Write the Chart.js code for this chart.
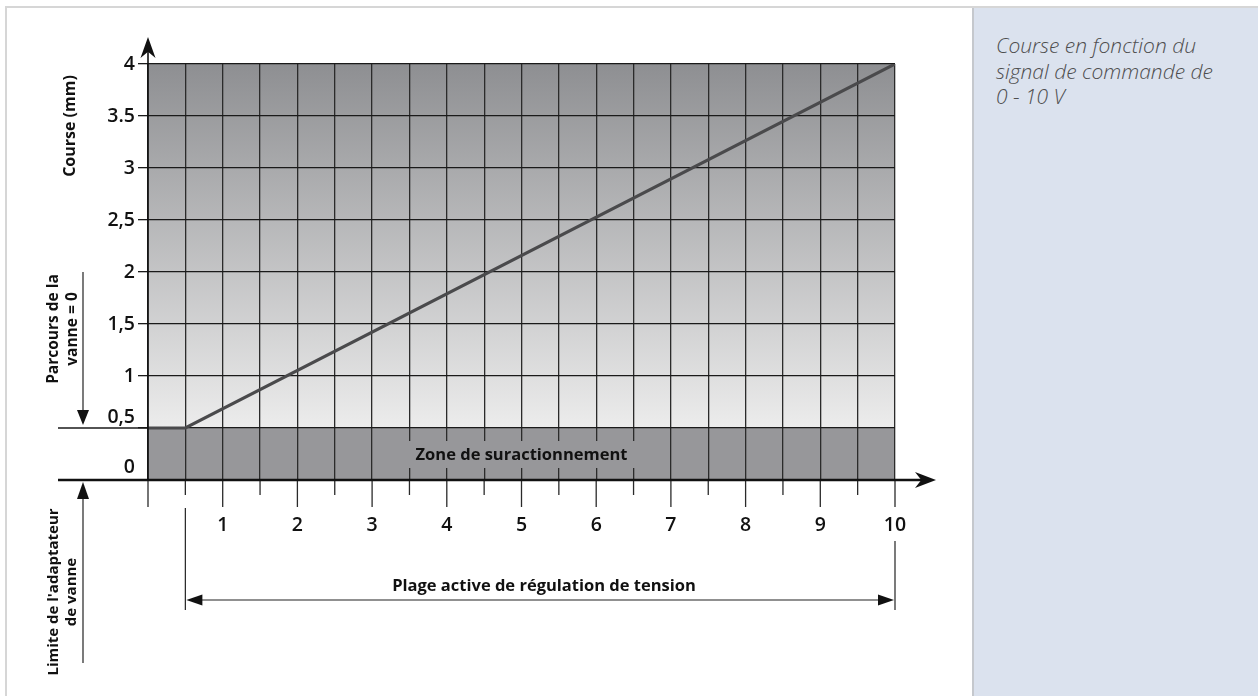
<!DOCTYPE html>
<html>
<head>
<meta charset="utf-8">
<script src="https://cdn.jsdelivr.net/npm/chart.js@4.4.1/dist/chart.umd.min.js"></script>
<style>
  html, body { margin: 0; padding: 0; background: #fff; }
  body { width: 1258px; height: 696px; position: relative; overflow: hidden; font-family: "Open Sans", sans-serif; }
  .frame { position: absolute; left: 5px; top: 6px; width: 1260px; height: 700px; border-top: 2px solid #d6d6d6; border-left: 2px solid #d6d6d6; }
  #wrap { position: absolute; left: 0; top: 0; width: 972px; height: 696px; }
  .side { position: absolute; left: 972px; top: 8px; width: 286px; height: 688px; background: #dbe2ee; border-left: 2px solid #c5c8cd; }
  .side p { margin: 0; padding: 25px 0 0 22px; font-style: italic; font-weight: 300; font-size: 21px; line-height: 25.5px; color: #4e4e4e; }
</style>
</head>
<body>
<div class="frame"></div>
<div id="wrap"><canvas id="chart" width="972" height="696"></canvas></div>
<div class="side"><p>Course en fonction du<br>signal de commande de<br>0 - 10 V</p></div>

<script>
// signal (V) -> course (mm)
const signalValues = [0, 0.5, 10];
const courseValues = [0.5, 0.5, 4];

const yTickValues = [0, 0.5, 1, 1.5, 2, 2.5, 3, 3.5, 4];
const yTickLabels = ['0', '0,5', '1', '1,5', '2', '2,5', '3', '3.5', '4'];
const xTickValues = [1, 2, 3, 4, 5, 6, 7, 8, 9, 10];
const xTickLabels = ['1', '2', '3', '4', '5', '6', '7', '8', '9', '10'];

const yTitle = 'Course (mm)';
const zoneLabel = 'Zone de suractionnement';
const rangeLabel = 'Plage active de régulation de tension';
const travelLabel = ['Parcours de la', 'vanne = 0'];
const limitLabel = ["Limite de l'adaptateur", 'de vanne'];

const zoneTop = 0.5;       // overtravel zone limit (mm)
const rangeStart = 0.5;    // active range start (V)
const rangeEnd = 10;

const BOLD = '"Open Sans", sans-serif';

function arrowHead(ctx, tx, ty, dx, dy, len, half, notch) {
  // dx,dy unit direction the arrow points to
  const bx = tx - dx * len, by = ty - dy * len;
  const px = -dy, py = dx;
  ctx.beginPath();
  ctx.moveTo(tx, ty);
  ctx.lineTo(bx + px * half, by + py * half);
  ctx.lineTo(tx - dx * len * (1 - notch), ty - dy * len * (1 - notch));
  ctx.lineTo(bx - px * half, by - py * half);
  ctx.closePath();
  ctx.fill();
}

function line(ctx, x1, y1, x2, y2, w, c) {
  ctx.beginPath();
  ctx.lineWidth = w;
  ctx.strokeStyle = c;
  ctx.moveTo(x1, y1);
  ctx.lineTo(x2, y2);
  ctx.stroke();
}

function vText(ctx, lines, cx, cy, font, gap) {
  ctx.save();
  ctx.translate(cx, cy);
  ctx.rotate(-Math.PI / 2);
  ctx.font = font;
  ctx.fillStyle = '#111';
  ctx.textAlign = 'center';
  ctx.textBaseline = 'middle';
  const off = (lines.length - 1) * gap / 2;
  lines.forEach((t, i) => ctx.fillText(t, 0, -off + i * gap));
  ctx.restore();
}

const diagramPlugin = {
  id: 'diagram',
  beforeDraw(chart) {
    const { ctx, chartArea: a, scales: { x, y } } = chart;
    const yz = y.getPixelForValue(zoneTop);
    const g = ctx.createLinearGradient(0, a.top, 0, yz);
    g.addColorStop(0, '#8e8f92');
    g.addColorStop(1, '#ececec');
    ctx.save();
    ctx.fillStyle = g;
    ctx.fillRect(a.left, a.top, a.right - a.left, yz - a.top);
    ctx.fillStyle = '#97979a';
    ctx.fillRect(a.left, yz, a.right - a.left, a.bottom - yz);
    ctx.restore();
  },
  afterDraw(chart) {
    const { ctx, chartArea: a, scales: { x, y } } = chart;
    ctx.save();
    const y0 = y.getPixelForValue(0);
    const yz = y.getPixelForValue(zoneTop);
    const x0 = x.getPixelForValue(0);
    const xr0 = x.getPixelForValue(rangeStart);
    const xr1 = x.getPixelForValue(rangeEnd);
    const leftX = 58;

    // zone label with its own background
    ctx.font = 'bold 16.5px ' + BOLD;
    const zx = x.getPixelForValue(5), zy = y.getPixelForValue(0.25);
    const zw = ctx.measureText(zoneLabel).width;
    ctx.fillStyle = '#97979a';
    ctx.fillRect(zx - zw / 2 - 8, zy - 13, zw + 16, 27);
    ctx.fillStyle = '#111';
    ctx.textAlign = 'center';
    ctx.textBaseline = 'middle';
    ctx.fillText(zoneLabel, zx, zy + 1);

    // lower y labels sit above their lines
    ctx.font = '600 19.5px ' + BOLD;
    ctx.textAlign = 'right';
    ctx.fillText(yTickLabels[1], 135, yz - 11);
    ctx.fillText(yTickLabels[0], 135, y0 - 13);

    // extended 0.5 line
    line(ctx, leftX, yz, a.left, yz, 1.3, '#1a1a1a');

    // x ticks below the axis
    for (let v = 0; v <= 10; v += 0.5) {
      const px = x.getPixelForValue(v);
      const len = Number.isInteger(v) ? 27 : 15;
      line(ctx, px, y0, px, y0 + len, 1.3, '#2a2a2a');
    }

    // y axis with arrow
    line(ctx, x0, y0, x0, 50, 1.6, '#111');
    ctx.fillStyle = '#111';
    arrowHead(ctx, x0, 37, 0, -1, 21, 7.5, 0.3);

    // x axis with arrow
    line(ctx, leftX, y0, 925, y0, 2.6, '#111');
    arrowHead(ctx, 936, y0, 1, 0, 21, 8, 0.3);

    // dimension of the active range
    const dy = 600;
    line(ctx, xr0, 508, xr0, 610, 1.2, '#222');
    line(ctx, xr1, 541, xr1, 610, 1.2, '#222');
    line(ctx, xr0 + 10, dy, xr1 - 10, dy, 1.2, '#222');
    arrowHead(ctx, xr0 + 1, dy, -1, 0, 16, 5.5, 0);
    arrowHead(ctx, xr1 - 1, dy, 1, 0, 16, 5.5, 0);
    ctx.font = 'bold 16.5px ' + BOLD;
    ctx.textAlign = 'center';
    ctx.fillText(rangeLabel, 544, 586);

    // left annotations
    const ax = 83;
    line(ctx, ax, 272, ax, 412, 1.2, '#222');
    arrowHead(ctx, ax, 425, 0, 1, 15, 6, 0);
    line(ctx, ax, 495, ax, 663, 1.2, '#222');
    arrowHead(ctx, ax, 482, 0, -1, 17, 6, 0);

    vText(ctx, [yTitle], 70, 126, 'bold 16px ' + BOLD, 0);
    vText(ctx, travelLabel, 63, 329, 'bold 15.5px ' + BOLD, 19);
    vText(ctx, limitLabel, 63, 592, 'bold 15px ' + BOLD, 18);
    ctx.restore();
  }
};

new Chart(document.getElementById('chart'), {
  type: 'line',
  data: {
    datasets: [{
      data: signalValues.map((v, i) => ({ x: v, y: courseValues[i] })),
      borderColor: '#4a4a4c',
      borderWidth: 3.2,
      pointRadius: 0,
      tension: 0
    }]
  },
  options: {
    responsive: false,
    devicePixelRatio: 1,
    animation: false,
    layout: { padding: { left: 0, top: 64, right: 77, bottom: 0 } },
    plugins: { legend: { display: false }, tooltip: { enabled: false } },
    scales: {
      x: {
        type: 'linear',
        min: 0,
        max: 10,
        afterFit: s => { s.height = 216; },
        afterBuildTicks: s => {
          const t = [];
          for (let v = 0; v <= 10; v += 0.5) t.push({ value: v });
          s.ticks = t;
        },
        ticks: {
          autoSkip: false,
          maxRotation: 0,
          padding: 34,
          color: '#111',
          font: { family: BOLD, size: 19.5, weight: '600' },
          callback: v => {
            const i = xTickValues.indexOf(v);
            return i >= 0 ? xTickLabels[i] : '';
          }
        },
        grid: { color: '#2b2b2b', lineWidth: 1.3, drawTicks: false },
        border: { display: false }
      },
      y: {
        type: 'linear',
        min: 0,
        max: 4,
        afterFit: s => { s.width = 148; },
        afterBuildTicks: s => { s.ticks = yTickValues.map(v => ({ value: v })); },
        ticks: {
          padding: 3,
          color: '#111',
          font: { family: BOLD, size: 19.5, weight: '600' },
          callback: v => (v < 1 ? '' : yTickLabels[yTickValues.indexOf(v)])
        },
        grid: {
          color: '#1a1a1a',
          lineWidth: 1.3,
          tickLength: 10,
          tickColor: c => (c.tick && c.tick.value === 0 ? 'rgba(0,0,0,0)' : '#1a1a1a')
        },
        border: { display: false }
      }
    }
  },
  plugins: [diagramPlugin]
});
</script>
</body>
</html>
